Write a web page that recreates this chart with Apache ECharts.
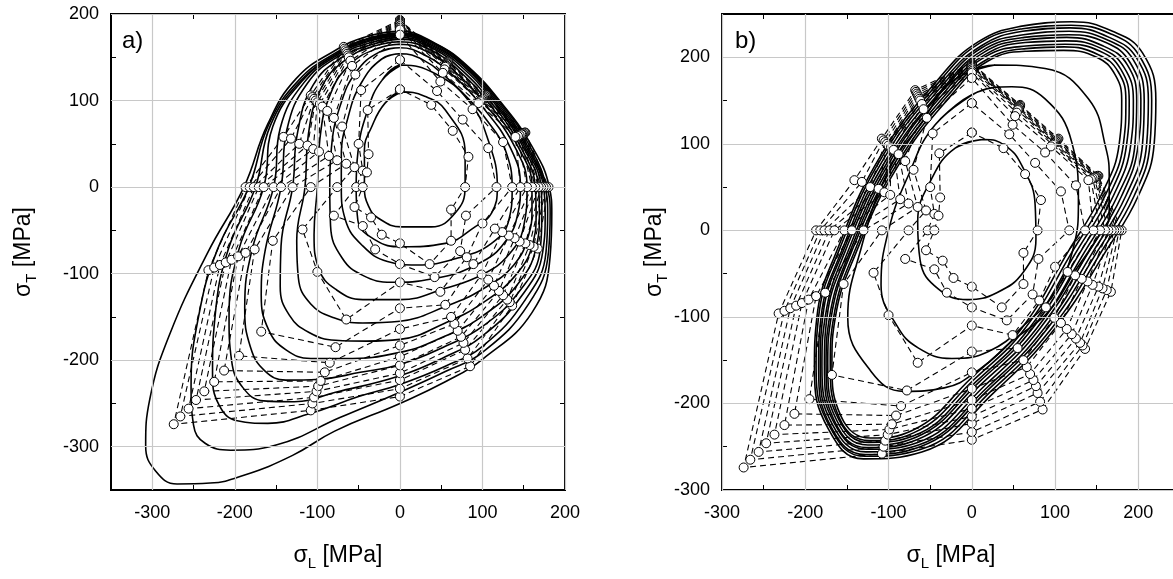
<!DOCTYPE html>
<html>
<head>
<meta charset="utf-8">
<script src="https://cdn.jsdelivr.net/npm/echarts@6/dist/echarts.min.js"></script>
<style>
html, body { margin: 0; padding: 0; background: #fff; overflow: hidden; }
#chart { width: 1190px; height: 579px; }
</style>
</head>
<body>
<div id="chart"></div>
<script>
// tick labels
var ticksA = [-300, -200, -100, 0, 100, 200];
var ticksB = [-300, -200, -100, 0, 100, 200];

// a) model curves (solid), inner -> outer
var ca0 = [[2,110],[-18,97],[-34,70],[-43,43],[-43,0],[-38,-22],[-26,-36],[2,-46],[38,-46],[67,-30],[79,0],[79,39],[55,89],[30,105],[2,110]];
var ca1 = [[2,141],[-22,123],[-39,89],[-51,39],[-53,0],[-51,-38],[-30,-61],[2,-69],[55,-65],[91,-46],[111,-30],[118,0],[107,54],[83,100],[43,131],[2,141]];
var ca2 = [[0,154],[-22,148],[-47,120],[-63,80],[-71,35],[-71,0],[-66,-38],[-45,-68],[-15,-86],[20,-90],[70,-82],[111,-65],[132,-38],[136,0],[127,45],[111,70],[90,95],[55,128],[28,147],[0,154]];
var ca3 = [[0,161],[-25,156],[-53,133],[-72,95],[-83,45],[-85,0],[-84,-45],[-70,-82],[-45,-102],[-10,-110],[40,-106],[100,-86],[130,-60],[143,-30],[146,0],[134,45],[98,95],[62,131],[31,152],[0,161]];
var ca4 = [[0,165],[-28,160],[-60,142],[-84,108],[-97,55],[-100,0],[-104,-55],[-98,-95],[-78,-118],[-45,-130],[0,-130],[55,-117],[100,-101],[132,-78],[150,-45],[154,0],[140,45],[104,95],[67,133],[34,156],[0,165]];
var ca5 = [[0,168],[-31,163],[-66,147],[-95,115],[-111,60],[-115,0],[-125,-62],[-123,-105],[-108,-135],[-80,-151],[-45,-157],[0,-155],[55,-138],[100,-118],[138,-90],[156,-55],[160,-25],[160,0],[144,45],[109,95],[71,135],[36,159],[0,168]];
var ca6 = [[0,171],[-33,165],[-70,150],[-105,118],[-124,63],[-130,0],[-144,-68],[-145,-115],[-134,-148],[-110,-168],[-78,-177],[-40,-178],[0,-176],[55,-157],[100,-134],[140,-102],[161,-65],[165,-30],[164,0],[147,45],[113,95],[74,136],[38,161],[0,171]];
var ca7 = [[0,173],[-35,167],[-73,152],[-112,120],[-137,66],[-144,0],[-163,-72],[-168,-125],[-159,-165],[-138,-188],[-108,-198],[-68,-198],[0,-191],[55,-172],[100,-149],[142,-113],[165,-70],[169,-30],[168,0],[150,45],[116,95],[77,137],[39,162],[0,173]];
var ca8 = [[0,175],[-36,169],[-75,153],[-116,121],[-145,68],[-153,0],[-179,-72],[-188,-140],[-181,-185],[-164,-212],[-138,-223],[-98,-222],[-48,-214],[0,-205],[55,-184],[100,-161],[145,-120],[170,-72],[172,-30],[171,0],[152,45],[118,95],[79,138],[40,163],[0,175]];
var ca9 = [[0,176],[-37,170],[-76,154],[-119,122],[-154,70],[-165,0],[-195,-72],[-207,-150],[-204,-200],[-190,-232],[-165,-247],[-128,-248],[-78,-237],[0,-218],[55,-196],[100,-172],[148,-125],[173,-75],[176,-30],[174,0],[154,45],[120,95],[80,138],[41,164],[0,176]];
var ca10 = [[0,177],[-38,171],[-77,154],[-121,122],[-157,71],[-175,0],[-208,-72],[-224,-150],[-227,-215],[-219,-252],[-197,-270],[-160,-273],[-110,-262],[-50,-242],[0,-228],[55,-207],[100,-184],[152,-130],[177,-75],[179,-30],[176,0],[156,45],[122,95],[81,139],[42,165],[0,177]];
var ca11 = [[0,178],[-38,172],[-78,155],[-123,123],[-159,72],[-183,0],[-221,-72],[-244,-150],[-253,-230],[-250,-275],[-236,-296],[-205,-304],[-150,-298],[-72,-266],[0,-237],[55,-213],[100,-191],[156,-135],[180,-75],[182,-30],[178,0],[158,46],[123,96],[82,139],[42,166],[0,178]];
var ca12 = [[0,180],[-40,174],[-80,157],[-126,125],[-160,73],[-189,0],[-233,-76],[-278,-168],[-303,-245],[-308,-299],[-296,-328],[-270,-343],[-230,-342],[-189,-333],[-130,-310],[-79,-282],[0,-250],[55,-225],[100,-199],[160,-145],[182,-80],[184,-30],[181,0],[160,47],[124,96],[83,139],[43,166],[0,180]];

// b) model curves (solid), inner -> outer
var cb0 = [[15,105],[-20,95],[-48,60],[-65,10],[-62,-35],[-40,-68],[-5,-80],[30,-72],[62,-48],[77,-10],[76,30],[60,75],[40,98],[15,105]];
var cb1 = [[7,160],[-44,122],[-76,64],[-100,0],[-109,-63],[-90,-110],[-64,-136],[-24,-148],[20,-140],[68,-105],[100,-71],[122,-20],[128,33],[120,102],[88,152],[48,166],[7,160]];
var cb2 = [[28,191],[-24,172],[-60,125],[-101,67],[-133,-21],[-149,-101],[-121,-163],[-81,-186],[-33,-182],[10,-160],[48,-128],[92,-94],[124,-47],[150,-10],[165,17],[165,60],[161,95],[140,152],[88,187],[28,191]];
var cb3 = [[110,208],[66,207],[20,196],[-23,158],[-89,74],[-140,-28],[-164,-101],[-168,-153],[-157,-215],[-122,-240],[-71,-231],[0,-170],[60,-113],[116,-24],[155,40],[177,100],[180,150],[172,180],[150,200],[110,208]];
var cb4 = [[111,212],[65,210],[19,198],[-25,160],[-91,75],[-142,-27],[-166,-101],[-170,-154],[-159,-217],[-123,-243],[-70,-234],[3,-172],[64,-113],[121,-24],[160,40],[182,100],[185,150],[176,183],[152,203],[111,212]];
var cb5 = [[112,215],[65,213],[17,201],[-27,162],[-93,77],[-145,-26],[-169,-101],[-173,-155],[-160,-218],[-124,-245],[-69,-237],[6,-174],[69,-113],[126,-24],[165,40],[186,100],[189,150],[179,186],[154,207],[112,215]];
var cb6 = [[113,219],[64,217],[16,203],[-29,164],[-96,78],[-147,-26],[-171,-101],[-175,-155],[-162,-220],[-125,-248],[-67,-239],[9,-175],[73,-113],[131,-24],[170,40],[191,100],[194,150],[183,188],[156,210],[113,219]];
var cb7 = [[114,223],[63,220],[15,206],[-31,166],[-98,80],[-149,-25],[-174,-101],[-177,-156],[-164,-222],[-126,-251],[-66,-242],[12,-177],[78,-113],[136,-24],[175,40],[196,100],[198,150],[187,191],[158,213],[114,223]];
var cb8 = [[116,226],[63,223],[13,208],[-32,167],[-100,81],[-152,-24],[-176,-100],[-180,-157],[-165,-223],[-126,-253],[-65,-245],[16,-179],[82,-113],[141,-24],[180,40],[200,100],[203,150],[190,194],[161,217],[116,226]];
var cb9 = [[117,230],[62,226],[12,211],[-34,169],[-102,83],[-154,-23],[-179,-100],[-182,-158],[-167,-225],[-127,-256],[-64,-248],[19,-181],[87,-113],[146,-24],[185,40],[205,100],[207,150],[194,197],[163,220],[117,230]];
var cb10 = [[118,234],[61,230],[11,213],[-36,171],[-105,84],[-156,-23],[-181,-100],[-184,-158],[-169,-227],[-128,-259],[-62,-250],[22,-182],[91,-113],[151,-24],[190,40],[210,100],[212,150],[198,199],[165,223],[118,234]];
var cb11 = [[119,237],[61,233],[9,216],[-38,173],[-107,86],[-159,-22],[-184,-100],[-187,-159],[-170,-228],[-129,-261],[-61,-253],[25,-184],[96,-113],[156,-24],[195,40],[214,100],[216,150],[201,202],[167,227],[119,237]];
var cb12 = [[120,241],[60,236],[8,218],[-40,175],[-109,87],[-161,-21],[-186,-100],[-189,-160],[-172,-230],[-130,-264],[-60,-256],[28,-186],[100,-113],[161,-24],[200,40],[219,100],[221,150],[205,205],[169,230],[120,241]];

// measured points (same in both panels), one entry per loading path, outer -> inner
var top90 = [193,192,191,190,189,188,186,184,182,176,147,113];
var dir112 = [[-68,162],[-67,160],[-66,158],[-65,156],[-64,154],[-63,152],[-62,150],[-60,146],[-58,140],[-54,130],[-47,112],[-39,89]];
var dir135 = [[-108,106],[-106,104],[-104,102],[-102,100],[-100,98],[-97,96],[-94,93],[-88,88],[-80,80],[-70,70],[-50,50],[-38,38]];
var dir157 = [[-141,58],[-132,56],[-122,50],[-112,48],[-105,44],[-98,41],[-86,36],[-76,31],[-65,27],[-55,23],[-45,19],[-40,17]];
var left180 = [-187,-182,-177,-171,-165,-153,-144,-130,-108,-76,-53,-45];
var dirM157 = [[-232,-96],[-225,-93],[-218,-90],[-211,-87],[-204,-84],[-196,-80],[-187,-76],[-176,-72],[-154,-62],[-118,-49],[-80,-33],[-55,-23]];
var dirM135 = [[-274,-274],[-266,-265],[-256,-256],[-247,-246],[-237,-236],[-225,-225],[-213,-212],[-195,-195],[-168,-167],[-100,-98],[-45,-45],[-35,-35]];
var dirM112 = [[-108,-258],[-106,-250],[-104,-243],[-101,-236],[-99,-230],[-96,-224],[-91,-214],[-85,-203],[-78,-185],[-65,-153],[-30,-72],[-22,-55]];
var bottom90 = [-242,-233,-223,-215,-206,-196,-183,-164,-140,-110,-89,-65];
var dirM67 = [[85,-207],[82,-198],[79,-188],[77,-180],[74,-173],[70,-166],[66,-158],[62,-150],[55,-136],[49,-121],[42,-104],[36,-89]];
var dirM45 = [[136,-137],[133,-133],[130,-130],[125,-125],[120,-120],[114,-114],[107,-107],[99,-101],[89,-89],[81,-81],[73,-74],[62,-62]];
var dirM22 = [[167,-71],[162,-69],[157,-67],[152,-65],[145,-63],[139,-59],[132,-56],[124,-52],[115,-48],[100,-42],[80,-33],[62,-26]];
var right0 = [180,177,174,171,168,164,160,154,146,136,117,79];
var dir22 = [[152,63],[151,63],[150,62],[149,62],[148,61],[147,61],[145,60],[143,59],[140,58],[125,52],[107,45],[83,35]];
var dir45 = [[104,106],[103,105],[102,104],[101,103],[100,102],[99,101],[98,100],[97,99],[95,97],[88,90],[76,78],[64,65]];
var dir67 = [[58,145],[58,144],[57,143],[57,142],[56,141],[56,140],[55,139],[54,136],[52,132],[49,122],[45,111],[38,95]];

var curvesA = [ca0, ca1, ca2, ca3, ca4, ca5, ca6, ca7, ca8, ca9, ca10, ca11, ca12];
var curvesB = [cb0, cb1, cb2, cb3, cb4, cb5, cb6, cb7, cb8, cb9, cb10, cb11, cb12];

var font = 'Liberation Sans, Arial, sans-serif';

function labelFmt(v) {
    return (v % 100 === 0) ? String(v) : '';
}

var nameRich = {
    g: { fontSize: 23, fontFamily: font, color: '#000' },
    s: { fontSize: 15, fontFamily: font, color: '#000', padding: [16, 0, 0, 0] }
};

function makeX(gi, min, max, pos, name) {
    return {
        type: 'value', gridIndex: gi, min: min, max: max, interval: 50, position: pos,
        axisLine: { show: false, onZero: false },
        axisTick: { show: true, inside: true, length: 5, lineStyle: { color: '#000', width: 1 } },
        axisLabel: { show: pos === 'bottom', formatter: labelFmt, fontSize: 18, color: '#000', fontFamily: font, margin: 14, showMaxLabel: true, showMinLabel: true },
        splitLine: { show: false },
        name: name || '', nameLocation: 'middle', nameGap: 50,
        nameTextStyle: { color: '#000', fontFamily: font, rich: nameRich }
    };
}

function makeY(gi, min, max, pos, name, gap) {
    return {
        type: 'value', gridIndex: gi, min: min, max: max, interval: 50, position: pos,
        axisLine: { show: false, onZero: false },
        axisTick: { show: true, inside: true, length: 5, lineStyle: { color: '#000', width: 1 } },
        axisLabel: { show: pos === 'left', formatter: labelFmt, fontSize: 18, color: '#000', fontFamily: font, margin: 12, showMaxLabel: true, showMinLabel: true },
        splitLine: { show: false },
        name: name || '', nameLocation: 'middle', nameRotate: 90, nameGap: gap || 60,
        nameTextStyle: { color: '#000', fontFamily: font, rich: nameRich }
    };
}

function gridLines(gi, ticks) {
    var d = [];
    for (var i = 0; i < ticks.length; i++) {
        d.push({ xAxis: ticks[i] });
        d.push({ yAxis: ticks[i] });
    }
    return {
        type: 'line', xAxisIndex: gi * 2, yAxisIndex: gi * 2, data: [], z: 1, silent: true,
        markLine: {
            silent: true, symbol: ['none', 'none'], label: { show: false }, animation: false,
            lineStyle: { color: '#c8c8c8', type: 'solid', width: 1.2 },
            data: d
        }
    };
}

function solid(pts, gi) {
    return {
        type: 'line', xAxisIndex: gi * 2, yAxisIndex: gi * 2,
        data: pts.concat([pts[1]]), smooth: 0.45, symbol: 'none', silent: true, z: 3,
        lineStyle: { color: '#000', width: 1.6 }
    };
}

function measured(k, gi) {
    var pts = [
        [0, top90[k]], dir112[k], dir135[k], dir157[k], [left180[k], 0],
        dirM157[k], dirM135[k], dirM112[k], [0, bottom90[k]], dirM67[k],
        dirM45[k], dirM22[k], [right0[k], 0], dir22[k], dir45[k], dir67[k], [0, top90[k]]
    ];
    return {
        type: 'line', xAxisIndex: gi * 2, yAxisIndex: gi * 2, data: pts,
        smooth: false, symbol: 'circle', symbolSize: 9, showAllSymbol: true, silent: true, z: 4,
        lineStyle: { color: '#000', width: 1.1, type: [6, 4] },
        itemStyle: { color: '#fff', borderColor: '#000', borderWidth: 1 }
    };
}

var series = [gridLines(0, ticksA), gridLines(1, ticksB)];
for (var i = 0; i < curvesA.length; i++) series.push(solid(curvesA[i], 0));
for (var j = 0; j < curvesB.length; j++) series.push(solid(curvesB[j], 1));
for (var k = 0; k < top90.length; k++) {
    series.push(measured(k, 0));
    series.push(measured(k, 1));
}

var nameL = '{g|σ}{s|L}{g| [MPa]}';
var nameT = '{g|σ}{s|T}{g| [MPa]}';

var myChart = echarts.init(document.getElementById('chart'));
var option = {
    animation: false,
    backgroundColor: '#fff',
    grid: [
        { left: 111, top: 14, width: 454, height: 476, show: true, borderColor: '#000', borderWidth: 2, backgroundColor: 'transparent' },
        { left: 722, top: 14, width: 458, height: 476, show: true, borderColor: '#000', borderWidth: 2, backgroundColor: 'transparent' }
    ],
    xAxis: [
        makeX(0, -350, 200, 'bottom', nameL),
        makeX(0, -350, 200, 'top'),
        makeX(1, -300, 250, 'bottom', nameL),
        makeX(1, -300, 250, 'top')
    ],
    yAxis: [
        makeY(0, -350, 200, 'left', nameT, 72),
        makeY(0, -350, 200, 'right'),
        makeY(1, -300, 250, 'left', nameT, 52),
        makeY(1, -300, 250, 'right')
    ],
    graphic: [
        { type: 'text', left: 122, top: 29, style: { text: 'a)', fontSize: 24, fontFamily: font, fill: '#000' } },
        { type: 'text', left: 735, top: 29, style: { text: 'b)', fontSize: 24, fontFamily: font, fill: '#000' } }
    ],
    series: series
};
myChart.setOption(option);
</script>
</body>
</html>
